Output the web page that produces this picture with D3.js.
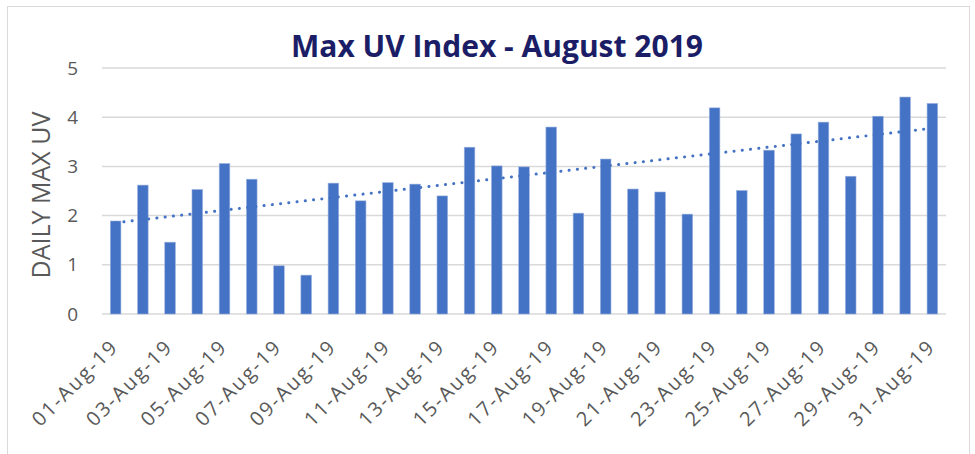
<!DOCTYPE html>
<html><head><meta charset="utf-8">
<script src="https://cdn.jsdelivr.net/npm/d3@7"></script>
<style>body{margin:0;background:#fff}svg{display:block}</style>
</head><body><svg id="c" width="975" height="454"></svg>
<script>
const dates = ["01-Aug-19","02-Aug-19","03-Aug-19","04-Aug-19","05-Aug-19","06-Aug-19","07-Aug-19","08-Aug-19","09-Aug-19","10-Aug-19","11-Aug-19","12-Aug-19","13-Aug-19","14-Aug-19","15-Aug-19","16-Aug-19","17-Aug-19","18-Aug-19","19-Aug-19","20-Aug-19","21-Aug-19","22-Aug-19","23-Aug-19","24-Aug-19","25-Aug-19","26-Aug-19","27-Aug-19","28-Aug-19","29-Aug-19","30-Aug-19","31-Aug-19"];
const uvValues = [1.89,2.62,1.46,2.53,3.06,2.74,0.98,0.79,2.66,2.30,2.67,2.64,2.40,3.39,3.01,2.99,3.80,2.05,3.15,2.54,2.48,2.03,4.19,2.51,3.33,3.66,3.90,2.80,4.02,4.41,4.28];
const yTicks = [0,1,2,3,4,5];
const xTickLabels = dates.filter((d,i)=>i%2===0);
const chartTitle = "Max UV Index - August 2019";
const yTitle = "DAILY MAX UV";

(function(){
const svg = d3.select("#c");
const pLeft=102, pRight=946, pTop=68, pBottom=314;
const x = d3.scaleBand().domain(dates).range([pLeft,pRight]).paddingInner(0.61).paddingOuter(0.305);
const y = d3.scaleLinear().domain([0,5]).range([pBottom,pTop]);

svg.append("rect").attr("x",7.5).attr("y",6.5).attr("width",962).attr("height",460)
  .attr("fill","none").attr("stroke","#d9d9d9").attr("stroke-width",1);

svg.append("g").selectAll("line").data(yTicks).join("line")
  .attr("x1",pLeft).attr("x2",pRight).attr("y1",d=>y(d)).attr("y2",d=>y(d))
  .attr("stroke","#d9d9d9").attr("stroke-width",1.5);

const yAxis = d3.axisLeft(y).tickValues(yTicks).tickSize(0).tickPadding(0).tickFormat(d3.format("d"));
const gy = svg.append("g").attr("transform",`translate(${pLeft-24},0)`).call(yAxis);
gy.select(".domain").remove();
gy.selectAll("text").attr("font-family","'Open Sans', sans-serif").attr("font-size",19).attr("fill","#595959");

svg.append("g").selectAll("rect").data(uvValues).join("rect")
  .attr("x",(d,i)=>x(dates[i])).attr("width",x.bandwidth())
  .attr("y",d=>y(d)).attr("height",d=>y(0)-y(d))
  .attr("fill","#4472C4").attr("stroke","#9db3e0").attr("stroke-width",0.6);

const n = uvValues.length;
const xs = d3.range(1,n+1);
const mx = d3.mean(xs), my = d3.mean(uvValues);
const slope = d3.sum(xs.map((v,i)=>(v-mx)*(uvValues[i]-my)))/d3.sum(xs.map(v=>(v-mx)*(v-mx)));
const icpt = my - slope*mx;
const cx = i => x(dates[i]) + x.bandwidth()/2;
svg.append("line")
  .attr("x1",cx(0)).attr("y1",y(icpt+slope*1))
  .attr("x2",cx(n-1)).attr("y2",y(icpt+slope*n))
  .attr("stroke","#4472C4").attr("stroke-width",3)
  .attr("stroke-linecap","round").attr("stroke-dasharray","0.1 8.2");

const xAxis = d3.axisBottom(x).tickValues(xTickLabels).tickSize(0).tickPadding(0);
const gx = svg.append("g").attr("transform",`translate(0,${pBottom})`).call(xAxis);
gx.select(".domain").remove();
gx.selectAll("text")
  .attr("font-family","'Open Sans', sans-serif").attr("font-size",20).attr("fill","#595959")
  .attr("letter-spacing",2).attr("text-anchor","end").attr("dy","0")
  .attr("transform","translate(4,34) rotate(-45)");

svg.append("text").attr("x",497).attr("y",57).attr("text-anchor","middle")
  .attr("font-family","'Open Sans', sans-serif").attr("font-weight","bold").attr("font-size",30)
  .attr("fill","#1b1e66").text(chartTitle);

svg.append("text").attr("transform","translate(50,195) rotate(-90)").attr("text-anchor","middle")
  .attr("font-family","'Open Sans', sans-serif").attr("font-size",25).attr("fill","#595959").text(yTitle);
})();
</script></body></html>
